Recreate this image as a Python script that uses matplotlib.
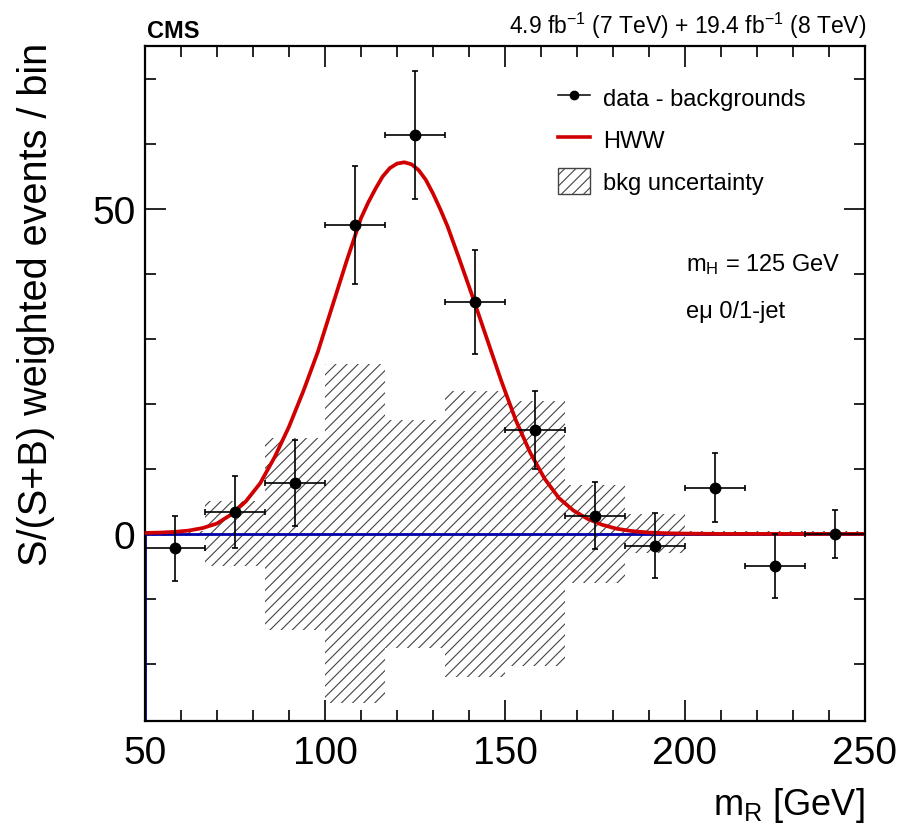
#!/usr/bin/env python3
"""Weighted m_R distribution after background subtraction, HWW signal overlay."""

import numpy as np
import matplotlib
matplotlib.use('Agg')
import matplotlib.pyplot as plt
from matplotlib.lines import Line2D
from matplotlib.patches import Patch

plt.rcParams['font.family'] = ['Liberation Sans', 'DejaVu Sans']
plt.rcParams['mathtext.fontset'] = 'custom'
plt.rcParams['mathtext.rm'] = 'Liberation Sans'
plt.rcParams['mathtext.it'] = 'Liberation Sans:italic'
plt.rcParams['hatch.linewidth'] = 0.8
plt.rcParams['hatch.color'] = '#444444'

# bins of m_R (GeV)
bin_edges = [50, 66.67, 83.33, 100, 116.67, 133.33, 150, 166.67, 183.33, 200, 216.67, 233.33, 250]
bin_centers = [58.33, 75, 91.67, 108.33, 125, 141.67, 158.33, 175, 191.67, 208.33, 225, 241.67]

# data - backgrounds, with symmetric errors
data_vals = [-2.2, 3.4, 7.8, 47.5, 61.4, 35.7, 16.0, 2.8, -1.8, 7.1, -4.9, 0.0]
data_errs = [5.0, 5.5, 6.6, 9.1, 9.8, 8.0, 6.0, 5.2, 5.0, 5.3, 4.9, 3.7]

# background uncertainty band half-width per bin
bkg_unc = [0.4, 5.0, 14.8, 26.1, 17.5, 22.0, 20.4, 7.6, 3.0, 0.4, 0.4, 0.4]

# HWW signal curve
hww_x = [50, 54, 58, 62, 66, 70, 74, 78, 82, 86, 90, 94, 98, 102, 106, 110, 112, 114,
         116, 118, 120, 122, 124, 126, 128, 130, 132, 134, 137, 141, 145, 149, 153, 157,
         161, 165, 169, 173, 177, 181, 185, 190, 195, 200, 210, 250]
hww_y = [0.15, 0.2, 0.3, 0.5, 0.9, 1.6, 3.0, 5.0, 7.8, 11.8, 16.5, 22.0, 28.0, 35.0,
         42.0, 48.6, 51.0, 53.1, 55.0, 56.3, 57.0, 57.2, 56.9, 56.0, 54.5, 52.4, 50.0,
         47.4, 42.8, 36.5, 30.0, 23.5, 17.5, 12.5, 8.5, 5.5, 3.6, 2.3, 1.4, 0.8, 0.45,
         0.2, 0.1, 0.05, 0.0, 0.0]

ymin, ymax = -28.8, 75.1

W, H = 902, 837
fig = plt.figure(figsize=(W / 100, H / 100), dpi=100)
ax = fig.add_axes([145 / W, 1 - 722 / H, 720 / W, 675 / H])

# background uncertainty band
edges = np.array(bin_edges)
unc = np.array(bkg_unc)
ax.bar(edges[:-1], 2 * unc, bottom=-unc, width=np.diff(edges), align='edge',
       facecolor='none', edgecolor='#444444', hatch='///', linewidth=0, zorder=1)

# zero line (subtracted background)
ax.plot([bin_edges[0], bin_edges[0], bin_edges[-1]], [ymin, 0, 0],
        color='#0000a8', lw=2.0, zorder=2)

# signal
ax.plot(hww_x, hww_y, color='#d00000', lw=2.7, zorder=3, solid_joinstyle='round')

# data
xerr = np.diff(edges) / 2
ax.errorbar(bin_centers, data_vals, yerr=data_errs, xerr=xerr, fmt='o', color='black',
            markersize=7.5, elinewidth=1.2, capsize=2.5, capthick=1.2, zorder=4)

ax.set_xlim(50, 250)
ax.set_ylim(ymin, ymax)
ax.set_xticks([50, 100, 150, 200, 250])
ax.set_xticks(np.arange(60, 250, 10), minor=True)
ax.set_yticks([0, 50])
ax.set_yticks([-20, -10, 10, 20, 30, 40, 60, 70], minor=True)
ax.tick_params(which='both', direction='in', top=True, right=True, labelsize=28)
ax.tick_params(axis='x', which='major', pad=10)
ax.tick_params(axis='y', which='major', pad=7)
ax.tick_params(which='major', length=15, width=1.2)
ax.tick_params(which='minor', length=8, width=1.2)
for s in ax.spines.values():
    s.set_linewidth(1.6)

ax.set_ylabel('S/(S+B) weighted events / bin', fontsize=28.5, loc='top')
ax.yaxis.set_label_coords(-0.125, 1.006)
ax.set_xlabel(r'm$_{\mathrm{R}}$ [GeV]', fontsize=26, loc='right', labelpad=10)

handles = [
    Line2D([], [], color='black', marker='o', markersize=6, lw=1.1),
    Line2D([], [], color='#d00000', lw=2.6),
    Patch(facecolor='white', edgecolor='#444444', hatch='///', linewidth=1.0),
]
ax.legend(handles, ['data - backgrounds', 'HWW', 'bkg uncertainty'], loc='upper left',
          bbox_to_anchor=(0.574, 0.943), frameon=False, fontsize=17, handlelength=1.36,
          handleheight=1.3, handletextpad=0.55, labelspacing=0.68, borderpad=0,
          borderaxespad=0)

ax.text(0.751, 0.677, r'm$_{\mathrm{H}}$ = 125 GeV', transform=ax.transAxes,
        fontsize=17, va='center')
ax.text(0.751, 0.607, 'eμ 0/1-jet', transform=ax.transAxes, fontsize=17, va='center')

fig.text(147 / W, 1 - 38 / H, 'CMS', fontsize=17, fontweight='bold', va='baseline')
fig.text(866 / W, 1 - 34 / H, r'4.9 fb$^{-1}$ (7 TeV) + 19.4 fb$^{-1}$ (8 TeV)',
         fontsize=16.5, ha='right', va='baseline')

fig.savefig('out.png', dpi=100)
